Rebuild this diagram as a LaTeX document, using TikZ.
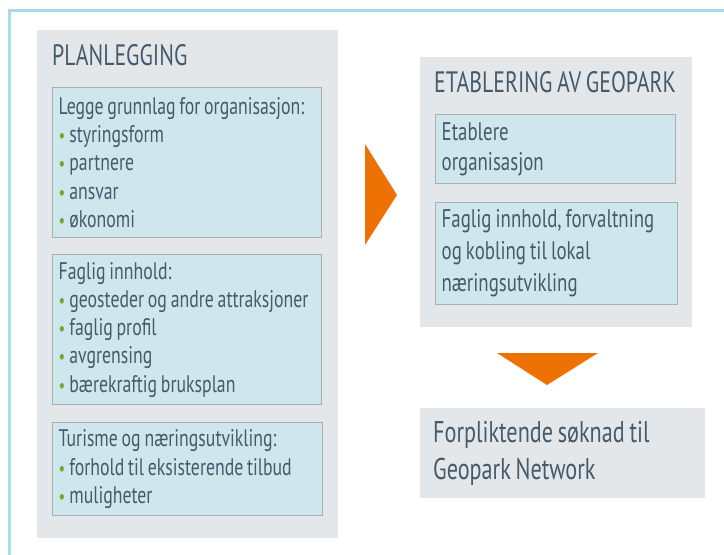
\documentclass[tikz,border=0pt]{standalone}
\usepackage{fontspec}
\setmainfont{PT Sans}[FakeStretch=0.74,WordSpace=0.8]
\usepackage{tikz}
\usetikzlibrary{positioning}
\definecolor{frameteal}{HTML}{A9DCE3}
\definecolor{panelgray}{HTML}{E3E7EA}
\definecolor{topicblue}{HTML}{CFE7EC}
\definecolor{topicline}{HTML}{A8AFB4}
\definecolor{slate}{HTML}{455A6B}
\definecolor{leafgreen}{HTML}{7BA428}
\definecolor{flowarrow}{HTML}{EE7203}
\newcommand{\bul}{{\fontsize{20}{28}\selectfont\textcolor{leafgreen}{•}}\hspace{4pt}}

\begin{document}
\begin{tikzpicture}[
		x=1pt,y=-1pt,
		every node/.style={text=slate,inner sep=0pt,font=\fontsize{24}{28.2}\selectfont},
		panel/.style={fill=panelgray,anchor=north west},
		heading/.style={anchor=base west,font=\fontsize{29.5}{34}\selectfont},
		plain text/.style={align=left,
			execute at begin node={\spaceskip=0pt\rightskip=0pt plus 1fil\relax}},
		topic/.style={plain text,draw=topicline,line width=1.3pt,fill=topicblue,
			anchor=north west,inner xsep=6pt},
		pointer/.style={fill=flowarrow}
		]
		\useasboundingbox (0,0) rectangle (724,555);
		\draw[frameteal,line width=2.5pt] (9.7,600) -- (9.7,10.5) -- (760,10.5);

		% planning column
		\node[panel,minimum width=301pt,minimum height=508pt] (plan) at (37,30) {};
		\node[heading] (plantitle) at (52,65.5) {PLANLEGGING};
		\node[topic,minimum width=269pt,minimum height=150pt,text width=257pt] (organise) at (52,87)
			{Legge grunnlag for organisasjon:\\ \bul styringsform\\ \bul partnere\\ \bul ansvar\\ \bul økonomi};
		\node[topic,minimum width=269pt,minimum height=150pt,text width=257pt] (content) at (52,254)
			{Faglig innhold:\\ \bul geosteder og andre attraksjoner\\ \bul faglig profil\\ \bul avgrensing\\ \bul bærekraftig bruksplan};
		\node[topic,minimum width=270pt,minimum height=93pt,text width=258pt] (tourism) at (52,422)
			{Turisme og næringsutvikling:\\ \bul forhold til eksisterende tilbud\\ \bul muligheter};

		% establishing column
		\node[panel,minimum width=272pt,minimum height=270pt] (estab) at (420,57) {};
		\node[heading] (estabtitle) at (434,92) {ETABLERING AV GEOPARK};
		\node[topic,minimum width=240pt,minimum height=69pt,text width=228pt,
			font=\fontsize{25.5}{30}\selectfont] (organisation) at (435,114)
			{Etablere\\ organisasjon};
		\node[topic,minimum width=242pt,minimum height=102pt,text width=230pt,
			font=\fontsize{25.5}{32}\selectfont] (management) at (435,202)
			{Faglig innhold, forvaltning\\ og kobling til lokal\\ næringsutvikling};

		% application
		\node[panel,plain text,minimum width=272pt,minimum height=90pt,text width=259pt,
			inner xsep=13pt,font=\fontsize{30}{37}\selectfont] (apply) at (420,408)
			{Forpliktende søknad til\\ Geopark Network};

		\fill[pointer] (365,144) -- (397,195) -- (365,245) -- cycle;
		\fill[pointer] (497,353) -- (598,353) -- (547,385) -- cycle;
	\end{tikzpicture}
\end{document}
